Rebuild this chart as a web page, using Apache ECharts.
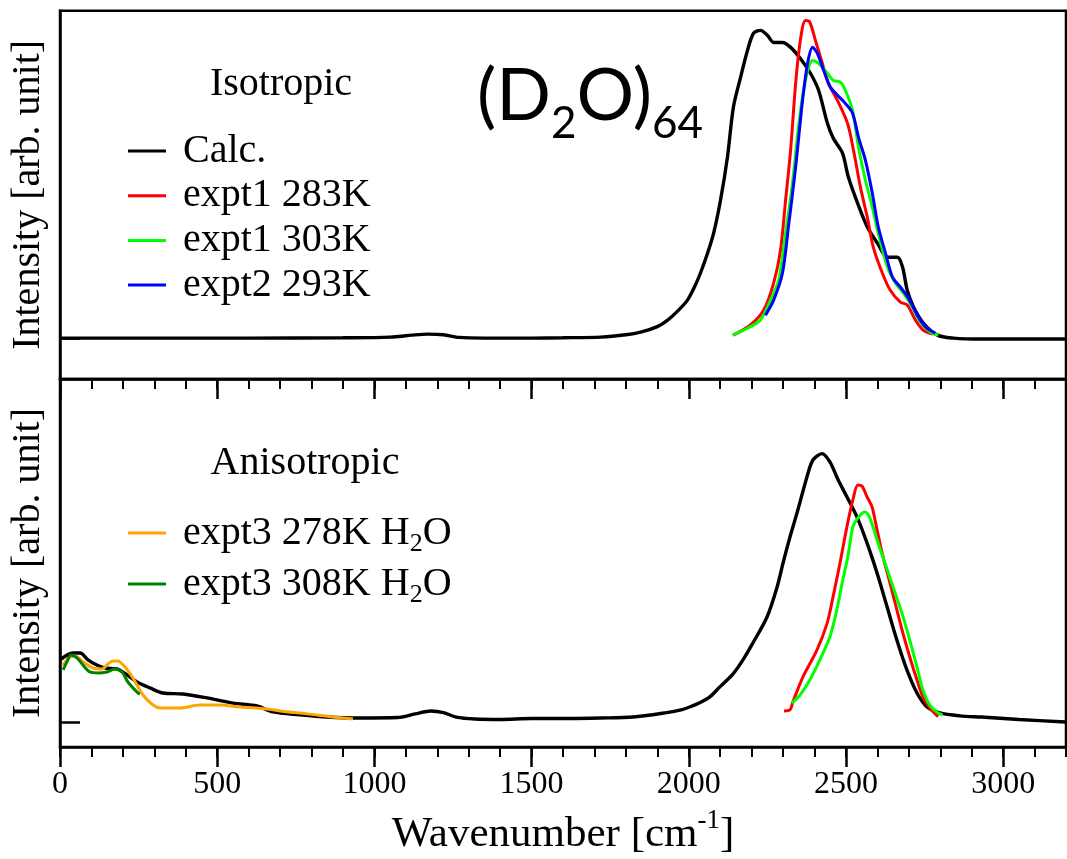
<!DOCTYPE html>
<html>
<head>
<meta charset="utf-8">
<script src="https://cdn.jsdelivr.net/npm/echarts@6/dist/echarts.min.js"></script>
<style>
  html, body { margin: 0; padding: 0; background: #fff; }
  #chart { width: 1067px; height: 859px; }
</style>
</head>
<body>
<div id="chart"></div>
<script>
// Wavenumber axis
const xMin = 0, xMax = 3200;
const majorTicks = [0, 500, 1000, 1500, 2000, 2500, 3000];

// Isotropic spectra: [wavenumber, intensity]
const isoCalc = [[0,0],[300,0],[600,0],[900,0.001],[1050,0.003],[1120,0.009],[1170,0.012],[1220,0.01],[1270,0.002],[1350,0],[1500,0],[1600,0.001],[1720,0.003],[1800,0.01],[1847,0.018],[1900,0.035],[1933,0.055],[1962,0.08],[1996,0.116],[2020,0.16],[2037,0.198],[2060,0.26],[2079,0.32],[2101,0.421],[2123,0.552],[2142,0.705],[2165,0.797],[2187,0.879],[2206,0.931],[2228,0.94],[2250,0.925],[2270,0.903],[2298,0.903],[2324,0.888],[2355,0.854],[2387,0.809],[2413,0.757],[2441,0.656],[2460,0.61],[2489,0.565],[2508,0.491],[2537,0.412],[2568,0.339],[2600,0.29],[2632,0.247],[2664,0.247],[2680,0.217],[2695,0.146],[2715,0.095],[2746,0.046],[2791,0.009],[2842,0],[2928,-0.003],[3200,-0.003]];
const iso283K = [[2142,0.009],[2196,0.04],[2238,0.085],[2270,0.168],[2292,0.269],[2308,0.421],[2324,0.574],[2340,0.778],[2355,0.909],[2371,0.97],[2384,0.967],[2403,0.909],[2425,0.839],[2444,0.778],[2473,0.726],[2505,0.656],[2524,0.574],[2546,0.461],[2568,0.369],[2587,0.278],[2616,0.198],[2641,0.146],[2673,0.11],[2695,0.101],[2721,0.055],[2746,0.024],[2778,0.012]];
const iso303K = [[2139,0.009],[2187,0.03],[2228,0.055],[2260,0.116],[2286,0.177],[2308,0.32],[2330,0.473],[2349,0.644],[2371,0.787],[2394,0.848],[2413,0.839],[2441,0.809],[2460,0.787],[2483,0.781],[2498,0.757],[2521,0.696],[2540,0.583],[2562,0.482],[2584,0.4],[2603,0.32],[2632,0.217],[2657,0.168],[2683,0.137],[2711,0.095],[2737,0.049],[2769,0.018],[2794,0.009]];
const iso293K = [[2244,0.07],[2270,0.116],[2298,0.198],[2317,0.339],[2340,0.522],[2362,0.726],[2378,0.839],[2394,0.888],[2409,0.87],[2429,0.818],[2451,0.766],[2473,0.742],[2498,0.717],[2521,0.687],[2540,0.613],[2562,0.543],[2584,0.442],[2603,0.339],[2626,0.259],[2648,0.186],[2673,0.156],[2699,0.122],[2727,0.07],[2753,0.034],[2784,0.015]];

// Anisotropic spectra: [wavenumber, intensity]
const anisoCalc = [[0,0.255],[41,0.283],[64,0.283],[89,0.255],[117,0.234],[143,0.222],[181,0.218],[213,0.194],[245,0.165],[286,0.141],[328,0.12],[391,0.116],[467,0.1],[550,0.079],[627,0.067],[677,0.043],[763,0.031],[849,0.022],[954,0.018],[1074,0.02],[1130,0.035],[1180,0.047],[1220,0.04],[1260,0.022],[1320,0.014],[1400,0.012],[1500,0.016],[1620,0.016],[1718,0.018],[1822,0.022],[1930,0.04],[1972,0.05],[2003,0.063],[2035,0.08],[2067,0.104],[2099,0.145],[2141,0.198],[2175,0.26],[2204,0.324],[2249,0.43],[2281,0.552],[2300,0.65],[2322,0.756],[2347,0.866],[2376,1.001],[2395,1.07],[2424,1.096],[2449,1.062],[2475,0.989],[2503,0.92],[2535,0.838],[2567,0.732],[2599,0.609],[2631,0.471],[2662,0.336],[2694,0.214],[2726,0.12],[2758,0.063],[2799,0.039],[2863,0.027],[2930,0.022],[3050,0.012],[3200,0.002]];
const aniso283K = [[2303,0.047],[2322,0.051],[2331,0.083],[2363,0.185],[2408,0.296],[2440,0.404],[2459,0.512],[2481,0.649],[2503,0.797],[2522,0.907],[2538,0.968],[2551,0.964],[2567,0.92],[2583,0.879],[2599,0.785],[2618,0.675],[2640,0.569],[2662,0.459],[2681,0.365],[2703,0.267],[2726,0.173],[2745,0.104],[2767,0.059],[2793,0.024]];
const aniso303K = [[2328,0.079],[2354,0.112],[2385,0.173],[2417,0.255],[2449,0.349],[2471,0.459],[2490,0.581],[2506,0.675],[2522,0.797],[2538,0.834],[2560,0.858],[2576,0.834],[2599,0.744],[2624,0.65],[2650,0.552],[2678,0.446],[2703,0.336],[2726,0.226],[2745,0.132],[2767,0.071],[2793,0.039],[2808,0.031]];
const aniso278H2O = [[9,0.234],[32,0.267],[48,0.271],[73,0.247],[105,0.222],[134,0.218],[149,0.234],[169,0.251],[184,0.251],[207,0.226],[232,0.181],[264,0.112],[296,0.071],[318,0.059],[382,0.059],[445,0.071],[509,0.071],[573,0.063],[658,0.055],[700,0.047],[786,0.035],[868,0.022],[932,0.014]];
const aniso308H2O = [[10,0.214],[22,0.247],[35,0.275],[54,0.263],[73,0.234],[95,0.206],[121,0.202],[149,0.206],[175,0.218],[197,0.206],[216,0.165],[248,0.12],[254,0.116]];

const SERIF = '"Liberation Serif", "Times New Roman", serif';
const SANS = 'Lato, "Noto Sans", sans-serif';
const BLACK = '#000000', RED = '#ff0000', GREEN = '#00ff00', BLUE = '#0000ff', ORANGE = '#ffa500', DKGREEN = '#008000';

const grids = [
  { left: 60, right: 1, top: 10.7, height: 368.3, show: true, borderColor: '#000', borderWidth: 2.5, containLabel: false },
  { left: 60, right: 1, top: 379, height: 368, show: true, borderColor: '#000', borderWidth: 2.5, containLabel: false }
];

// every 100 cm^-1: short outward ticks
function minorAxis(gi) {
  return {
    type: 'value', gridIndex: gi, position: 'bottom', min: xMin, max: xMax, interval: 100,
    axisLine: { show: true, onZero: false, lineStyle: { color: '#000', width: 2.5 } },
    axisTick: { show: true, inside: false, length: 10, lineStyle: { color: '#000', width: 2 } },
    axisLabel: { show: false }, splitLine: { show: false }
  };
}
// every 500 cm^-1: long outward ticks, labels on the lower panel only
function majorAxis(gi, withLabels) {
  return {
    type: 'value', gridIndex: gi, position: 'bottom', min: xMin, max: xMax, interval: 500,
    axisLine: { show: false, onZero: false },
    axisTick: { show: true, inside: false, length: 20, customValues: majorTicks, lineStyle: { color: '#000', width: 2.5 } },
    axisLabel: {
      show: withLabels, customValues: majorTicks, margin: 22, color: '#000', fontFamily: SERIF, fontSize: 32,
      formatter: function (v) { return String(v); }
    },
    splitLine: { show: false },
    name: withLabels ? '{n|Wavenumber [cm}{s|-1}{n|]}' : '',
    nameLocation: 'middle', nameGap: 60,
    nameTextStyle: {
      rich: {
        n: { fontFamily: SERIF, fontSize: 43, color: '#000' },
        s: { fontFamily: SERIF, fontSize: 27, color: '#000', padding: [0, 0, 28, 0] }
      }
    }
  };
}
function yAxis(gi, min, max) {
  return {
    type: 'value', gridIndex: gi, min: min, max: max,
    axisLine: { show: true, onZero: false, lineStyle: { color: '#000', width: 2.5 } },
    axisTick: { show: true, inside: true, length: 20, customValues: [0], lineStyle: { color: '#000', width: 2.5 } },
    axisLabel: { show: false }, splitLine: { show: false },
    name: 'Intensity [arb. unit]', nameLocation: 'middle', nameGap: 12, nameRotate: 90,
    nameTextStyle: { fontFamily: SERIF, fontSize: 40, color: '#000' }
  };
}

function line(name, data, color, xi, yi, width) {
  return {
    name: name, type: 'line', data: data, xAxisIndex: xi, yAxisIndex: yi,
    showSymbol: false, symbol: 'none', smooth: 0.3,
    lineStyle: { color: color, width: width || 3 }, itemStyle: { color: color },
    z: 3
  };
}

const legendText = { fontFamily: SERIF, fontSize: 40, color: '#000', lineHeight: 40, padding: [0, 0, 0, 12] };

const option = {
  animation: false,
  backgroundColor: '#fff',
  grid: grids,
  xAxis: [minorAxis(0), majorAxis(0, false), minorAxis(1), majorAxis(1, true)],
  yAxis: [yAxis(0, -0.125, 1.0), yAxis(1, -0.1, 1.4)],
  legend: [
    {
      data: ['Calc.', 'expt1 283K', 'expt1 303K', 'expt2 293K'],
      orient: 'vertical', left: 128, top: 131, padding: 0, itemGap: 4.7,
      icon: 'rect', itemWidth: 38, itemHeight: 3, selectedMode: false,
      textStyle: legendText
    },
    {
      data: ['expt3 278K H2O', 'expt3 308K H2O'],
      orient: 'vertical', left: 128, top: 509, padding: 0, itemGap: 3,
      icon: 'rect', itemWidth: 38, itemHeight: 3, selectedMode: false,
      formatter: function (n) { return '{t|' + n.replace(' H2O', ' H') + '}{s|2}{t|O}'; },
      textStyle: {
        fontFamily: SERIF, fontSize: 40, color: '#000', padding: [0, 0, 0, 12],
        rich: {
          t: { fontFamily: SERIF, fontSize: 40, color: '#000', lineHeight: 48 },
          s: { fontFamily: SERIF, fontSize: 26, color: '#000', lineHeight: 48, padding: [22, 0, 0, 0] }
        }
      }
    }
  ],
  graphic: [
    { type: 'text', x: 281, y: 84.5, style: { text: 'Isotropic', font: '40px ' + SERIF, fill: '#000', align: 'center', verticalAlign: 'middle' } },
    { type: 'text', x: 305, y: 463, style: { text: 'Anisotropic', font: '40px ' + SERIF, fill: '#000', align: 'center', verticalAlign: 'middle' } },
    {
      type: 'text', x: 477, y: 97,
      style: {
        text: '{m|(D}{s|2}{m|O)}{s|64}', align: 'left', verticalAlign: 'middle',
        rich: {
          m: { fontFamily: SANS, fontSize: 72, fill: '#000', color: '#000' },
          s: { fontFamily: SANS, fontSize: 44, fill: '#000', color: '#000', padding: [54, 0, 0, 0] }
        }
      }
    }
  ],
  series: [
    line('Calc.', isoCalc, BLACK, 0, 0, 3.4),
    line('expt1 283K', iso283K, RED, 0, 0),
    line('expt1 303K', iso303K, GREEN, 0, 0),
    line('expt2 293K', iso293K, BLUE, 0, 0),
    line('Calc.', anisoCalc, BLACK, 2, 1, 3.4),
    line('expt1 283K', aniso283K, RED, 2, 1),
    line('expt1 303K', aniso303K, GREEN, 2, 1),
    line('expt3 278K H2O', aniso278H2O, ORANGE, 2, 1),
    line('expt3 308K H2O', aniso308H2O, DKGREEN, 2, 1)
  ]
};

const chart = echarts.init(document.getElementById('chart'), null, { renderer: 'canvas' });
chart.setOption(option);
</script>
</body>
</html>
